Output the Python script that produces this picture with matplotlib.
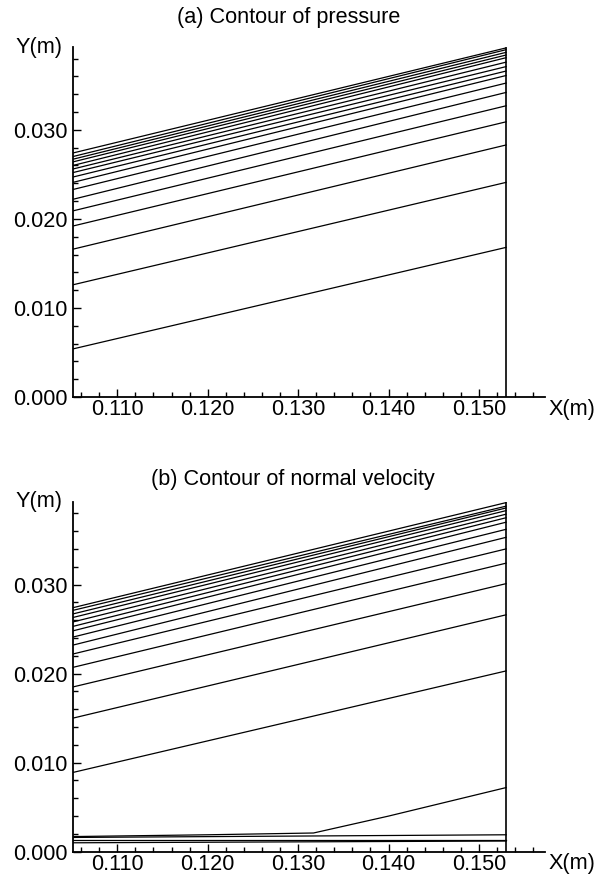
import numpy as np
from matplotlib import pyplot as plt
from matplotlib.ticker import MultipleLocator, FormatStrFormatter

plt.rcParams['font.family'] = ['Liberation Sans', 'DejaVu Sans']

# domain edges (m)
x_left = 0.1051
x_right = 0.1530
y_top = 0.0392

# pressure contours, y at left edge and right edge
p_left = [0.0054, 0.0126, 0.0166, 0.0192, 0.0209, 0.0222, 0.0233, 0.0241,
          0.0247, 0.0252, 0.0256, 0.0260, 0.0264, 0.0267, 0.0270, 0.0274]
p_right = [0.0168, 0.0241, 0.0283, 0.0309, 0.0327, 0.0342, 0.03525, 0.0361,
           0.0366, 0.0371, 0.0376, 0.0381, 0.0384, 0.0387, 0.0390, 0.0392]

# normal velocity contours
v_left = [0.0089, 0.0150, 0.0185, 0.0207, 0.0222, 0.0232, 0.0241, 0.0248,
          0.0253, 0.0258, 0.0263, 0.0267, 0.0271, 0.0274]
v_right = [0.0203, 0.0266, 0.0301, 0.0324, 0.0340, 0.0353, 0.0362, 0.0370,
           0.0375, 0.0379, 0.0383, 0.0386, 0.0388, 0.0392]

# near wall lines of the velocity plot
kink_x = [0.1051, 0.1200, 0.1317, 0.1400, 0.1530]
kink_y = [0.0017, 0.0019, 0.0021, 0.0040, 0.0072]
wall_left = [0.0016, 0.0013, 0.0010]
wall_right = [0.0019, 0.0013, 0.0012]

titles = ['(a) Contour of pressure', '(b) Contour of normal velocity']
fs = 15.6

fig = plt.figure(figsize=(5.99, 8.76), dpi=100)
ax1 = fig.add_axes([73/599, 1-397/876, 472/599, 350/876])
ax2 = fig.add_axes([73/599, 1-851.7/876, 472/599, 350/876])

def setup(ax):
    ax.set_xlim(x_left, 0.1573)
    ax.set_ylim(0, 0.0393)
    for s in ['top', 'right']:
        ax.spines[s].set_visible(False)
    for s in ['left', 'bottom']:
        ax.spines[s].set_linewidth(1.3)
    ax.xaxis.set_major_locator(MultipleLocator(0.01))
    ax.xaxis.set_minor_locator(MultipleLocator(0.002))
    ax.yaxis.set_major_locator(MultipleLocator(0.01))
    ax.yaxis.set_minor_locator(MultipleLocator(0.002))
    ax.xaxis.set_major_formatter(FormatStrFormatter('%.3f'))
    ax.yaxis.set_major_formatter(FormatStrFormatter('%.3f'))
    ax.tick_params(which='both', direction='in', labelsize=fs, width=1)
    ax.tick_params(which='major', length=6)
    ax.tick_params(which='minor', length=3.5)
    ax.tick_params(axis='x', which='major', pad=1.5)
    ax.tick_params(axis='y', which='major', pad=4)
    ax.text(-11/472, 1.0, 'Y(m)', transform=ax.transAxes, ha='right',
            va='center', fontsize=fs)
    ax.text(1.008, -0.005, 'X(m)', transform=ax.transAxes, ha='left',
            va='top', fontsize=fs)
    # right boundary of domain
    ax.plot([x_right, x_right], [0, y_top], color='black', lw=1.2)

setup(ax1)
setup(ax2)
fig.text(288.5/599, 1-18/876, titles[0], ha='center', va='center', fontsize=fs)
fig.text(293/599, 1-479/876, titles[1], ha='center', va='center', fontsize=fs)

for yl, yr in zip(p_left, p_right):
    ax1.plot([x_left, x_right], [yl, yr], color='black', lw=0.9)

for yl, yr in zip(v_left, v_right):
    ax2.plot([x_left, x_right], [yl, yr], color='black', lw=0.9)

ax2.plot(kink_x, kink_y, color='black', lw=0.9)
for yl, yr in zip(wall_left, wall_right):
    ax2.plot([x_left, x_right], [yl, yr], color='black', lw=0.9)

fig.savefig('out.png', dpi=100)
